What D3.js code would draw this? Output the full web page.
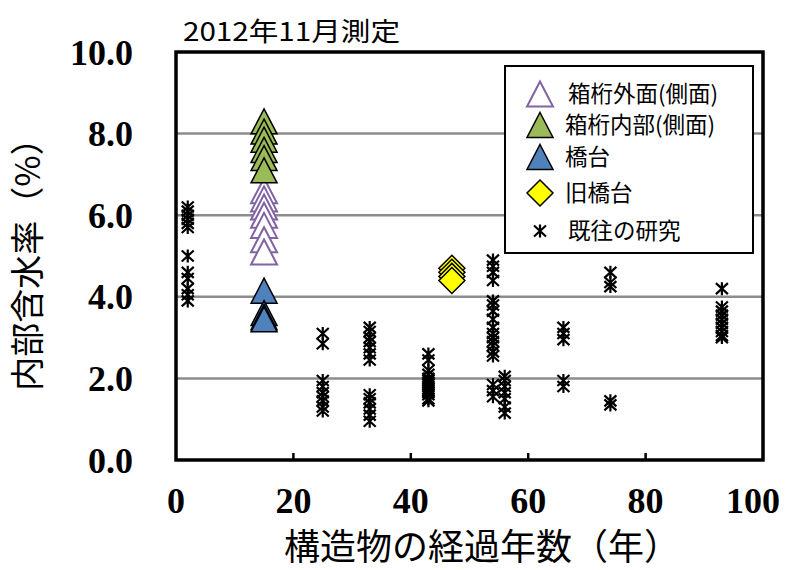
<!DOCTYPE html>
<html lang="ja">
<head>
<meta charset="UTF-8">
<title>内部含水率</title>
<script src="https://d3js.org/d3.v7.min.js"></script>
<style>
    body{margin:0;background:#fff;}
    svg{display:block;}
    .cjk{font-family:"Noto Sans CJK JP","Noto Sans",sans-serif;}
    .num{font-family:"Liberation Serif","DejaVu Serif",serif;font-weight:bold;}
</style>
</head>
<body>
<div id="chart"></div>
<script>
    // 箱桁外面(側面) / 箱桁内部(側面) / 橋台 : 15年
    const boxAge = 15;
    const boxOuter = [6.6, 6.4, 6.2, 6.0, 5.75, 5.4, 5.1];
    const boxInner = [8.3, 8.05, 7.85, 7.6, 7.4, 7.1];
    const abutment = [4.15, 3.6, 3.5, 3.45];
    // 旧橋台 : 47年
    const oldAge = 47;
    const oldAbutment = [4.7, 4.6, 4.5, 4.4];
    // 既往の研究
    const prevAges = [2, 25, 33, 43, 54, 56, 66, 74, 93];
    const prevValues = [
        [6.2, 6.1, 6.0, 5.9, 5.8, 5.7, 5.0, 4.6, 4.45, 4.2, 4.05, 3.9],
        [3.1, 2.85, 1.95, 1.8, 1.65, 1.55, 1.45, 1.3, 1.2],
        [3.25, 3.15, 3.0, 2.9, 2.75, 2.6, 2.45, 1.6, 1.5, 1.4, 1.25, 1.1, 0.95],
        [2.6, 2.45, 2.2, 2.1, 2.0, 1.95, 1.9, 1.85, 1.8, 1.75, 1.7, 1.65, 1.6, 1.5, 1.45],
        [4.9, 4.75, 4.6, 4.4, 3.9, 3.8, 3.65, 3.45, 3.25, 3.1, 3.0, 2.9, 2.8, 2.65, 2.55, 1.85, 1.7, 1.55],
        [2.05, 1.95, 1.8, 1.65, 1.5, 1.3, 1.15],
        [3.25, 3.1, 2.95, 1.95, 1.8],
        [4.6, 4.35, 4.25, 1.45, 1.35],
        [4.2, 3.75, 3.65, 3.55, 3.45, 3.35, 3.25, 3.15, 3.05, 3.0]
    ];
    const xTicks = [0, 20, 40, 60, 80, 100];
    const yTicks = [0, 2, 4, 6, 8, 10];
    const legendNames = ['箱桁外面(側面)', '箱桁内部(側面)', '橋台', '旧橋台', '既往の研究'];

    const width = 793, height = 570;
    const x = d3.scaleLinear().domain([0, 100]).range([176, 763]);
    const y = d3.scaleLinear().domain([0, 10]).range([460, 52]);

    const svg = d3.select('#chart').append('svg')
        .attr('width', width).attr('height', height);

    const tri = 'M0,-12.5L13,12.5L-13,12.5Z';
    const dia = 'M0,-13L13,0L0,13L-13,0Z';
    const star = 'M0,-6.5V6.5M-6,-5.5L6,5.5M-6,5.5L6,-5.5';

    // grid lines
    svg.append('g').selectAll('line')
        .data(yTicks.filter(t => t > 0 && t < 10))
        .join('line')
        .attr('x1', x(0)).attr('x2', x(100))
        .attr('y1', d => y(d)).attr('y2', d => y(d))
        .attr('stroke', '#8c8c8c').attr('stroke-width', 2.5);

    // x ticks (inward)
    svg.append('g').selectAll('line')
        .data(xTicks.filter(t => t > 0 && t < 100))
        .join('line')
        .attr('x1', d => x(d)).attr('x2', d => x(d))
        .attr('y1', y(0)).attr('y2', y(0) - 7)
        .attr('stroke', '#000').attr('stroke-width', 2.5);

    // previous research
    const prev = svg.append('g');
    prevAges.forEach((age, i) => {
        prev.selectAll(null)
            .data(prevValues[i])
            .join('path')
            .attr('d', star)
            .attr('transform', d => `translate(${x(age)},${y(d)})`)
            .attr('fill', 'none').attr('stroke', '#000').attr('stroke-width', 2.2);
    });

    function drawSeries(vals, age, shape, fill, stroke, sw) {
        svg.append('g').selectAll('path')
            .data(vals)
            .join('path')
            .attr('d', shape)
            .attr('transform', d => `translate(${x(age)},${y(d)})`)
            .attr('fill', fill).attr('stroke', stroke).attr('stroke-width', sw)
            .attr('stroke-linejoin', 'miter');
    }
    drawSeries(boxOuter, boxAge, tri, '#fff', '#8064a2', 2);
    drawSeries(boxInner, boxAge, tri, '#9bbb59', '#000', 1.5);
    drawSeries(abutment, boxAge, tri, '#4f81bd', '#000', 1.5);
    drawSeries(oldAbutment, oldAge, dia, '#ffff00', '#000', 1.5);

    // plot frame
    svg.append('rect')
        .attr('x', x(0)).attr('y', y(10))
        .attr('width', x(100) - x(0)).attr('height', y(0) - y(10))
        .attr('fill', 'none').attr('stroke', '#000').attr('stroke-width', 3.5);

    // tick labels
    svg.append('g').selectAll('text')
        .data(yTicks)
        .join('text')
        .attr('class', 'num')
        .attr('x', 133).attr('y', d => y(d))
        .attr('dy', '0.35em')
        .attr('text-anchor', 'end')
        .attr('font-size', 36)
        .text(d => d.toFixed(1));
    svg.append('g').selectAll('text')
        .data(xTicks)
        .join('text')
        .attr('class', 'num')
        .attr('x', d => x(d) + (d === 100 ? -10 : 0)).attr('y', 513)
        .attr('text-anchor', 'middle')
        .attr('font-size', 36)
        .text(d => d);

    // titles
    svg.append('text').attr('class', 'cjk')
        .attr('x', 183).attr('y', 41)
        .attr('font-size', 26)
        .attr('textLength', 217).attr('lengthAdjust', 'spacingAndGlyphs')
        .text('2012年11月測定');
    svg.append('text').attr('class', 'cjk')
        .attr('x', 482).attr('y', 560)
        .attr('text-anchor', 'middle')
        .attr('font-size', 36)
        .text('構造物の経過年数（年）');
    svg.append('text').attr('class', 'cjk')
        .attr('transform', 'translate(40,256) rotate(-90)')
        .attr('text-anchor', 'middle')
        .attr('font-size', 34)
        .text('内部含水率（%）');

    // legend
    const lg = svg.append('g');
    lg.append('rect')
        .attr('x', 505).attr('y', 66).attr('width', 248).attr('height', 187)
        .attr('fill', '#fff').attr('stroke', '#000').attr('stroke-width', 2);
    const legendRows = [
        {y: 94, d: tri, fill: '#fff', stroke: '#8064a2', sw: 2},
        {y: 125, d: tri, fill: '#9bbb59', stroke: '#000', sw: 1.5},
        {y: 157, d: tri, fill: '#4f81bd', stroke: '#000', sw: 1.5},
        {y: 193, d: dia, fill: '#ffff00', stroke: '#000', sw: 1.5},
        {y: 231, d: star, fill: 'none', stroke: '#000', sw: 2.2}
    ];
    legendRows.forEach((r, i) => {
        lg.append('path')
            .attr('d', r.d)
            .attr('transform', `translate(540,${r.y})`)
            .attr('fill', r.fill).attr('stroke', r.stroke).attr('stroke-width', r.sw);
        lg.append('text').attr('class', 'cjk')
            .attr('x', i === 0 || i === 4 ? 568 : 565).attr('y', r.y)
            .attr('dy', '0.36em')
            .attr('font-size', 22.5)
            .text(legendNames[i]);
    });
</script>
</body>
</html>
